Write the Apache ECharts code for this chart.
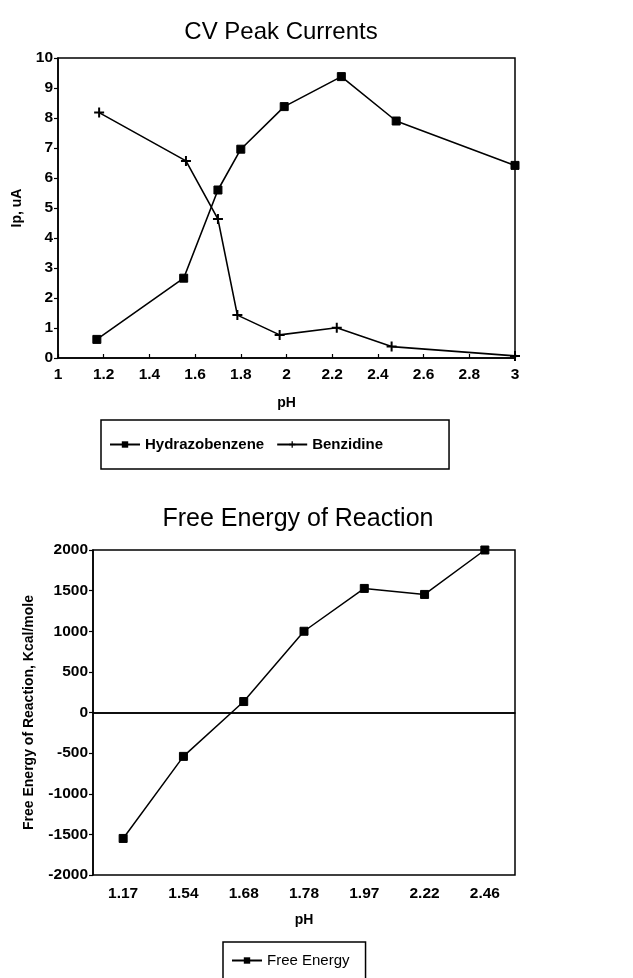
<!DOCTYPE html>
<html>
<head>
<meta charset="utf-8">
<script src="https://cdn.jsdelivr.net/npm/echarts@6/dist/echarts.min.js"></script>
<style>
html,body{margin:0;padding:0;background:#fff;}
#chart{width:633px;height:978px;}
</style>
</head>
<body>
<div id="chart"></div>
<script>
// ---- Data ----
const hydrazoPH = [1.17, 1.55, 1.70, 1.80, 1.99, 2.24, 2.48, 3.0];
const hydrazoIp = [0.62, 2.66, 5.6, 6.96, 8.38, 9.38, 7.9, 6.42];
const benzPH = [1.18, 1.56, 1.70, 1.785, 1.97, 2.22, 2.46, 3.0];
const benzIp = [8.18, 6.57, 4.63, 1.43, 0.77, 1.01, 0.38, 0.07];

const energyCategories = ['1.17', '1.54', '1.68', '1.78', '1.97', '2.22', '2.46'];
const freeEnergy = [-1550, -540, 135, 1000, 1527, 1453, 2000];

const FONT = 'Liberation Sans, Arial, sans-serif';
const plusPath = 'path://M4,0L6,0L6,4L10,4L10,6L6,6L6,10L4,10L4,6L0,6L0,4L4,4Z';

const chart = echarts.init(document.getElementById('chart'), null, {renderer: 'canvas'});

const axisLabelStyle = {color: '#000', fontFamily: FONT, fontWeight: 'bold', fontSize: 15.5};
const axisNameStyle = {color: '#000', fontFamily: FONT, fontWeight: 'bold', fontSize: 14};

chart.setOption({
  backgroundColor: '#fff',
  animation: false,
  title: [
    {text: 'CV Peak Currents', left: 276, top: 15, textAlign: 'center',
     textStyle: {fontFamily: FONT, fontWeight: 'normal', fontSize: 24, color: '#000'}},
    {text: 'Free Energy of Reaction', left: 293, top: 502, textAlign: 'center',
     textStyle: {fontFamily: FONT, fontWeight: 'normal', fontSize: 25, color: '#000'}}
  ],
  legend: [
    {data: ['Hydrazobenzene', 'Benzidine'], left: 101, top: 420,
     orient: 'horizontal', itemWidth: 30, itemHeight: 8, itemGap: 12,
     borderColor: '#000', borderWidth: 1.5, borderRadius: 0,
     padding: [17, 66, 17, 8],
     textStyle: {fontFamily: FONT, fontWeight: 'bold', fontSize: 15, color: '#000'}},
    {data: ['Free Energy'], left: 223, top: 942, itemWidth: 30, itemHeight: 8,
     borderColor: '#000', borderWidth: 1.5, borderRadius: 0,
     padding: [11, 16, 20, 8],
     textStyle: {fontFamily: FONT, fontWeight: 'normal', fontSize: 15, color: '#000'}}
  ],
  grid: [
    {left: 58, right: 118, top: 58, bottom: 620, show: true, borderColor: '#000', borderWidth: 1.5, containLabel: false},
    {left: 93, right: 118, top: 550, bottom: 103, show: true, borderColor: '#000', borderWidth: 1.5, containLabel: false}
  ],
  xAxis: [
    {gridIndex: 0, type: 'value', min: 1, max: 3, interval: 0.2,
     name: 'pH', nameLocation: 'middle', nameGap: 38, nameTextStyle: axisNameStyle,
     axisLine: {lineStyle: {color: '#000', width: 1.5}},
     axisTick: {inside: true, length: 4, lineStyle: {color: '#000', width: 1.2}},
     axisLabel: Object.assign({margin: 9}, axisLabelStyle),
     splitLine: {show: false}},
    {gridIndex: 1, type: 'category', data: energyCategories, boundaryGap: true,
     name: 'pH', nameLocation: 'middle', nameGap: 38, nameTextStyle: axisNameStyle,
     axisLine: {lineStyle: {color: '#000', width: 1.5}},
     axisTick: {show: false},
     axisLabel: Object.assign({margin: 11}, axisLabelStyle),
     splitLine: {show: false}}
  ],
  yAxis: [
    {gridIndex: 0, type: 'value', min: 0, max: 10, interval: 1,
     name: 'Ip, uA', nameLocation: 'middle', nameGap: 34, nameRotate: 90, nameTextStyle: axisNameStyle,
     axisLine: {show: true, lineStyle: {color: '#000', width: 1.5}},
     axisTick: {show: true, length: 4, lineStyle: {color: '#000', width: 1.2}},
     axisLabel: Object.assign({margin: 5}, axisLabelStyle),
     splitLine: {show: false}},
    {gridIndex: 1, type: 'value', min: -2000, max: 2000, interval: 500,
     name: 'Free Energy of Reaction, Kcal/mole', nameLocation: 'middle', nameGap: 57, nameRotate: 90,
     nameTextStyle: axisNameStyle,
     axisLine: {show: true, lineStyle: {color: '#000', width: 1.5}},
     axisTick: {show: true, length: 4, lineStyle: {color: '#000', width: 1.2}},
     axisLabel: Object.assign({margin: 5, formatter: v => String(v)}, axisLabelStyle),
     splitLine: {show: false}}
  ],
  series: [
    {name: 'Hydrazobenzene', type: 'line', xAxisIndex: 0, yAxisIndex: 0,
     data: hydrazoPH.map((x, i) => [x, hydrazoIp[i]]),
     symbol: 'rect', symbolSize: 8, showAllSymbol: true,
     lineStyle: {color: '#000', width: 1.6},
     itemStyle: {color: '#000', borderColor: '#000'}},
    {name: 'Benzidine', type: 'line', xAxisIndex: 0, yAxisIndex: 0,
     data: benzPH.map((x, i) => [x, benzIp[i]]),
     symbol: plusPath, symbolSize: 10, showAllSymbol: true,
     lineStyle: {color: '#000', width: 1.6},
     itemStyle: {color: '#000', borderColor: '#000', borderWidth: 0}},
    {name: 'Free Energy', type: 'line', xAxisIndex: 1, yAxisIndex: 1,
     data: freeEnergy,
     symbol: 'rect', symbolSize: 8, showAllSymbol: true,
     lineStyle: {color: '#000', width: 1.5},
     itemStyle: {color: '#000', borderColor: '#000'},
     markLine: {silent: true, symbol: ['none', 'none'], label: {show: false},
       lineStyle: {color: '#000', width: 1.5, type: 'solid'},
       data: [{yAxis: 0}]}}
  ]
});
</script>
</body>
</html>
